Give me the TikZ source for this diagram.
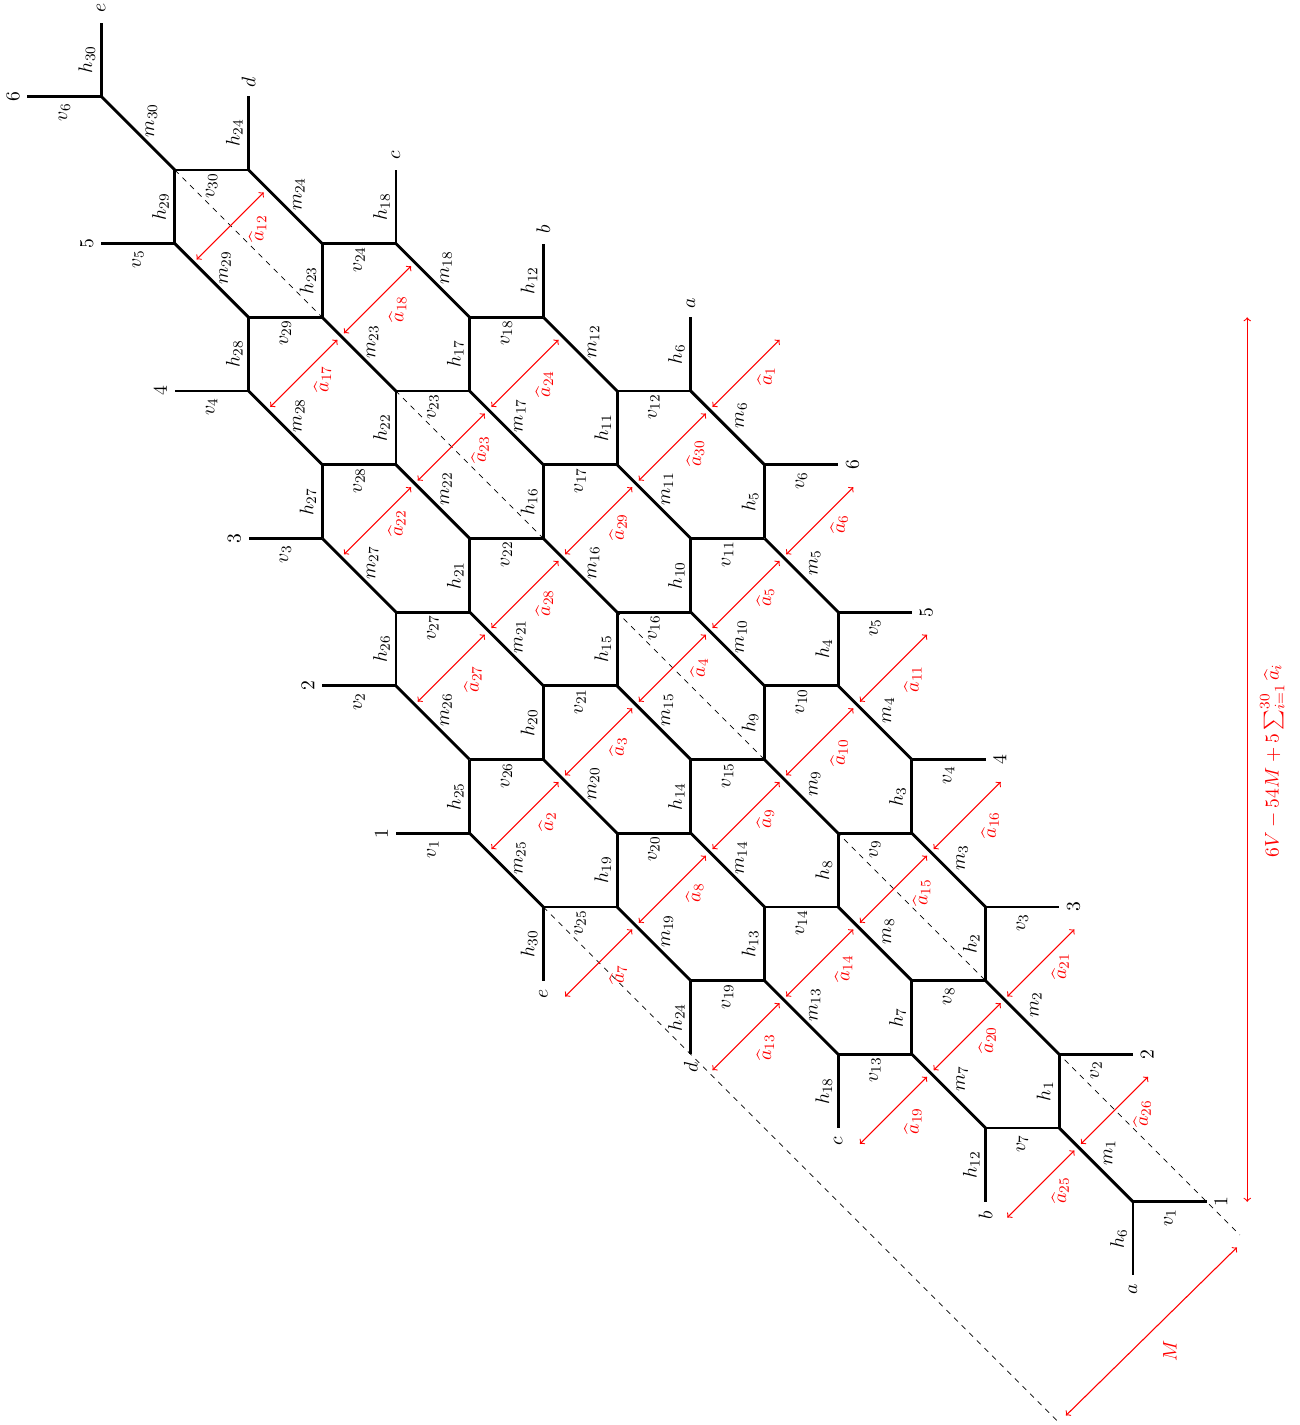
\documentclass[11pt,tikz,border=0pt]{standalone}
\usepackage{amsmath}
\usepackage{xcolor}
\usepackage{tikz}
\tikzset{
    gridline/.style={line width=1.6pt},
    cutline/.style={dashed, line width=0.4pt},
    amark/.style={red, <->, line width=0.6pt},
    hlabel/.style={midway, xshift=-8pt, rotate=90},
    vlabel/.style={midway, yshift=-8.8pt, rotate=90},
    mlabel/.style={midway, xshift=7.5pt, yshift=7pt, rotate=90},
    alabel/.style={red, rotate=90}
}

\begin{document}
\begin{tikzpicture}[x=1.445cm, y=1.445cm]
    \useasboundingbox (-15.373,-3.029) rectangle (2.253,16.306);
    \coordinate (cutAend) at (1.45,-0.45);
    \coordinate (cutBend) at (-1,-3);
    \coordinate (sumlow) at (1.55,0);
    \coordinate (sumhigh) at (1.55,12);
    \coordinate (mlow) at (-0.91,-2.90);
    \coordinate (mhigh) at (1.41,-0.62);
    \foreach \s in {0,...,4}
      \foreach \k in {1,...,7}{
        \coordinate (b\s\k) at ({-2*\s-(\k-1)},{\s+2*(\k-1)});
        \coordinate (c\s\k) at ({-2*\s-\k},{\s+2*\k-1});
        \coordinate (r\s\k) at ({-2*\s-\k+2},{\s+2*(\k-1)});
        \coordinate (l\s\k) at ({-2*\s-\k-1},{\s+2*\k-1});
        \coordinate (f\s\k) at ({-2*\s-(\k-1)},{\s+2*(\k-1)-1});
      }
    \draw[cutline] (b46) -- (cutAend);
    \draw[cutline] (b41) -- (cutBend);
    \foreach \s in {0,...,4}
      \foreach \k in {1,...,6}{
        \pgfmathtruncatemacro{\n}{6*\s+\k}
        \pgfmathtruncatemacro{\kk}{\k+1}
        \draw[gridline] (b\s\k) -- node[mlabel] (m\n) {$m_{\n}$} (c\s\k);
        \draw[gridline] (c\s\k) -- node[hlabel] (h\n) {$h_{\n}$} (b\s\kk);
        \draw[gridline] (b\s\k) -- node[vlabel] (v\n) {$v_{\n}$} (r\s\k);
      }
    \foreach \k in {1,...,6}{
        \draw[gridline] (c4\k) -- node[vlabel] (vleft\k) {$v_{\k}$} (l4\k);
        \node[xshift=-8pt, rotate=90] (numleft\k) at (l4\k) {$\k$};
        \node[xshift=8pt, rotate=90] (numright\k) at (r0\k) {$\k$};
    }
    \foreach \s/\ltr in {0/a,1/b,2/c,3/d,4/e}{
        \pgfmathtruncatemacro{\n}{6*\s+6}
        \draw[gridline] (b\s1) -- node[hlabel] (hfoot\n) {$h_{\n}$} (f\s1);
        \node[yshift=-7.5pt, rotate=90] (foot\ltr) at (f\s1) {$\ltr$};
        \node[yshift=8pt, rotate=90] (top\ltr) at (b\s7) {$\ltr$};
    }
    \foreach \i/\gx/\gy/\lx/\ly in {
        1/0/0/.73/.42, 2/-3/-6/.76/.37, 3/-2/-5/.72/.39, 4/-1/-4/.82/.46, 5/0/-3/.72/.42,
        6/1/-2/.72/.41, 7/-2/-8/.72/.30, 8/-1/-7/.76/.41, 9/0/-6/.72/.41, 10/1/-5/.72/.31,
        11/2/-4/.72/.31, 12/-7/2/.83/.42, 13/0/-9/.72/.31, 14/1/-8/.78/.38, 15/2/-7/.84/.41,
        16/3/-6/.77/.33, 17/-6/0/.71/.38, 18/-5/1/.73/.33, 19/2/-10/.72/.31, 20/3/-9/.73/.41,
        21/4/-8/.72/.41, 22/-5/-2/.72/.42, 23/-4/-1/.85/.42, 24/-3/0/.72/.31, 25/4/-11/.72/.37,
        26/5/-10/.83/.41, 27/-4/-4/.75/.31, 28/-3/-3/.72/.34, 29/-2/-2/.72/.37, 30/-1/-1/.77/.37}{
        \coordinate (as\i) at ({-5.25+\gx-.455},{11.24+\gy-.455});
        \coordinate (ae\i) at ({-5.25+\gx+.455},{11.24+\gy+.455});
        \draw[amark] (as\i) -- (ae\i);
        \node[alabel] (a\i) at ([shift={(\lx,\ly)}]as\i) {$\widehat{a}_{\i}$};
    }
    \draw[amark] (sumlow) -- (sumhigh);
    \draw[amark] (mlow) -- (mhigh);
    \node[alabel] (mname) at (0.50,-2.02) {$M$};
    \node[alabel] (sumname) at (1.89,5.98) {$6V-54M+5\sum_{i=1}^{30}\widehat{a}_i$};
\end{tikzpicture}
\end{document}
